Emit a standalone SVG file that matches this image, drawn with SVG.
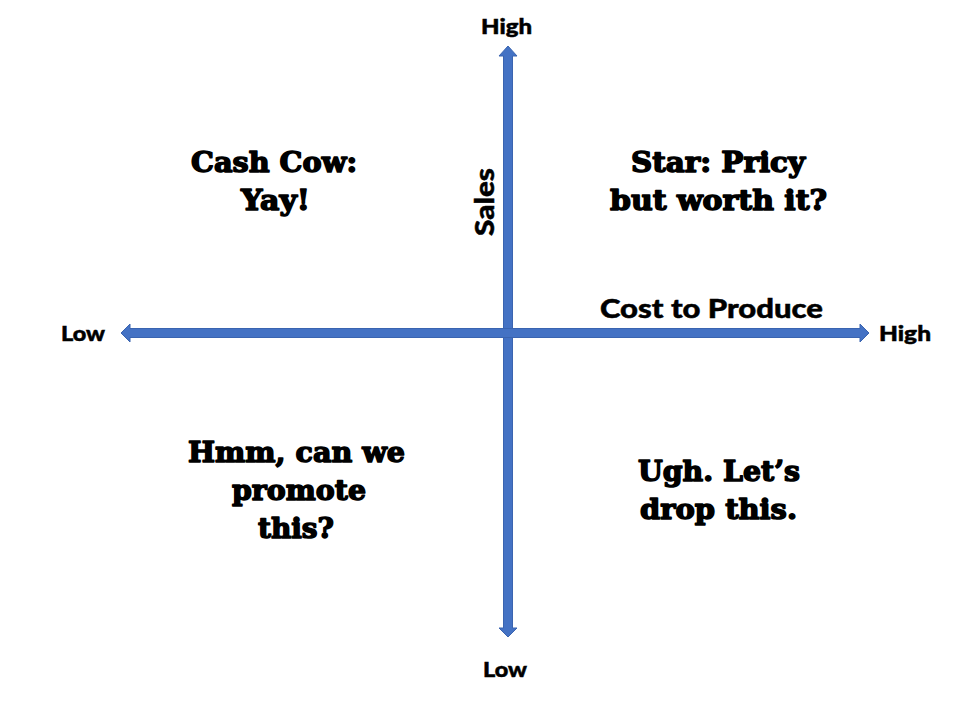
<svg xmlns="http://www.w3.org/2000/svg" width="959" height="720" viewBox="0 0 959 720">
  <style>
    .axis { fill: #4472C4; stroke: #3A64B0; stroke-width: 1; }
    .lbl { font-family: "Lato", "DejaVu Sans", sans-serif; font-weight: 900; fill: #000; stroke: #000; stroke-width: 0.5; }
    .q { font-family: "DejaVu Serif", "Liberation Serif", serif; font-weight: bold; fill: #000; stroke: #000; stroke-width: 1.5; stroke-linejoin: round; font-size: 28px; text-anchor: middle; }
  </style>
  <rect width="959" height="720" fill="#fff"/>

  <g id="connectors">
    <!-- vertical axis: Sales -->
    <polygon id="axis-y" class="axis" points="508,46 517,56 512.5,56 512.5,628 517,628 508,637 499,628 503.5,628 503.5,56 499,56"/>
    <!-- horizontal axis: Cost to Produce -->
    <polygon id="axis-x" class="axis" points="121,333 130,324 130,328.5 860,328.5 860,324 869,333 860,342 860,337.5 130,337.5 130,342"/>
  </g>

  <g id="axis-labels">
    <text class="lbl" x="481" y="34" font-size="21" textLength="51" lengthAdjust="spacingAndGlyphs">High</text>
    <text class="lbl" x="483" y="677" font-size="21" textLength="44" lengthAdjust="spacingAndGlyphs">Low</text>
    <text class="lbl" x="61" y="341" font-size="21" textLength="44" lengthAdjust="spacingAndGlyphs">Low</text>
    <text class="lbl" x="879" y="341" font-size="21" textLength="52" lengthAdjust="spacingAndGlyphs">High</text>
    <text class="lbl" x="600" y="318" font-size="27" textLength="223" lengthAdjust="spacingAndGlyphs">Cost to Produce</text>
    <text class="lbl" font-size="27" text-anchor="middle" textLength="68" lengthAdjust="spacingAndGlyphs" transform="translate(494,202) rotate(-90)">Sales</text>
  </g>

  <g id="q-cash-cow">
    <text class="q" x="274" y="172" textLength="166" lengthAdjust="spacingAndGlyphs">Cash Cow:</text>
    <text class="q" x="275.5" y="210" textLength="69" lengthAdjust="spacingAndGlyphs">Yay!</text>
  </g>
  <g id="q-star">
    <text class="q" x="718" y="172" textLength="174" lengthAdjust="spacingAndGlyphs">Star: Pricy</text>
    <text class="q" x="718.5" y="210" textLength="217" lengthAdjust="spacingAndGlyphs">but worth it?</text>
  </g>
  <g id="q-promote">
    <text class="q" x="296.5" y="462" textLength="217" lengthAdjust="spacingAndGlyphs">Hmm, can we</text>
    <text class="q" x="299" y="500" textLength="134" lengthAdjust="spacingAndGlyphs">promote</text>
    <text class="q" x="296" y="538" textLength="76" lengthAdjust="spacingAndGlyphs">this?</text>
  </g>
  <g id="q-drop">
    <text class="q" x="719" y="481" textLength="162" lengthAdjust="spacingAndGlyphs">Ugh. Let’s</text>
    <text class="q" x="718.5" y="519" textLength="157" lengthAdjust="spacingAndGlyphs">drop this.</text>
  </g>
</svg>
